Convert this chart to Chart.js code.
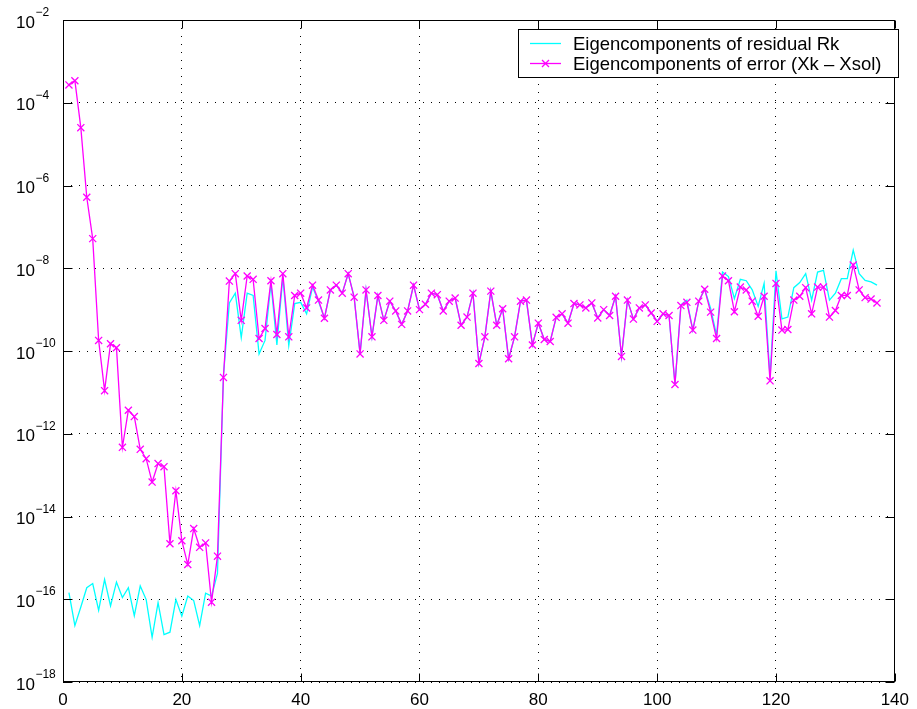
<!DOCTYPE html>
<html>
<head>
<meta charset="utf-8">
<title>Eigencomponents</title>
<script src="https://cdn.jsdelivr.net/npm/chart.js@4.4.1/dist/chart.umd.min.js"></script>
<style>
  body { margin: 0; background: #fff; }
  canvas { display: block; }
</style>
</head>
<body>
<canvas id="eigChart" width="917" height="709"></canvas>
<script>
// iteration index on the x axis
const iterations = Array.from({ length: 137 }, (_, i) => i + 1);

// eigencomponents of residual Rk (cyan)
const residual = [
    1.45e-16, 2.3e-17, 6.5e-17, 1.9e-16, 2.4e-16, 5.4e-17, 3.0e-16, 6.9e-17, 2.6e-16, 1.1e-16,
    1.9e-16, 4.0e-17, 2.1e-16, 9.8e-17, 1.2e-17, 8.3e-17, 1.4e-17, 1.6e-17, 9.8e-17, 3.9e-17,
    1.2e-16, 9.3e-17, 2.3e-17, 1.4e-16, 1.2e-16, 4.2e-16, 2.5e-11, 1.45e-9, 2.5e-9, 2.1e-10,
    2.5e-9, 2.2e-9, 8.5e-11, 1.8e-10, 4.3e-9, 1.4e-10, 6.2e-9, 1.35e-10, 1.4e-9, 1.5e-9,
    7.9e-10, 3.5e-9, 1.6e-9, 6.2e-10, 3.0e-9, 3.9e-9, 2.5e-9, 7.4e-9, 2.0e-9, 8.5e-11,
    3.0e-9, 2.2e-10, 2.2e-9, 5.5e-10, 1.6e-9, 9.3e-10, 4.4e-10, 9.3e-10, 3.9e-9, 1.0e-9,
    1.35e-9, 2.5e-9, 2.3e-9, 9.3e-10, 1.6e-9, 1.9e-9, 4.2e-10, 6.6e-10, 2.5e-9, 5.0e-11,
    2.2e-10, 2.8e-9, 4.2e-10, 1.05e-9, 6.5e-11, 2.2e-10, 1.6e-9, 1.7e-9, 1.4e-10, 4.7e-10,
    1.9e-10, 1.7e-10, 6.5e-10, 7.9e-10, 4.7e-10, 1.4e-9, 1.3e-9, 1.1e-9, 1.45e-9, 6.3e-10,
    1.0e-9, 7.2e-10, 2.1e-9, 7.4e-11, 1.7e-9, 5.9e-10, 1.1e-9, 1.3e-9, 8.3e-10, 5.2e-10,
    7.9e-10, 7.2e-10, 1.55e-11, 1.3e-9, 1.7e-9, 3.2e-10, 1.6e-9, 3.1e-9, 1.07e-9, 2.4e-10,
    8.1e-9, 6.3e-9, 1.85e-9, 5.4e-9, 5.0e-9, 3.0e-9, 1.2e-9, 4.3e-9, 2.3e-11, 8.7e-9,
    6.0e-10, 6.6e-10, 3.4e-9, 4.5e-9, 7.4e-9, 1.7e-9, 8.1e-9, 8.9e-9, 1.7e-9, 2.5e-9,
    5.6e-9, 5.6e-9, 2.75e-8, 7.4e-9, 5.1e-9, 4.7e-9, 3.9e-9
];

// eigencomponents of error (Xk - Xsol) (magenta, x markers)
const errorComp = [
    2.7e-4, 3.4e-4, 2.5e-5, 5.2e-7, 5.2e-8, 1.8e-10, 1.1e-11, 1.5e-10, 1.2e-10, 4.7e-13,
    3.7e-12, 2.6e-12, 4.2e-13, 2.5e-13, 6.8e-14, 1.9e-13, 1.6e-13, 2.2e-15, 4.2e-14, 2.6e-15,
    6.9e-16, 5.1e-15, 1.8e-15, 2.3e-15, 8.5e-17, 1.1e-15, 2.3e-11, 4.9e-9, 7.4e-9, 5.5e-10,
    6.5e-9, 5.4e-9, 2.0e-10, 3.5e-10, 5.0e-9, 2.5e-10, 7.4e-9, 2.2e-10, 2.2e-9, 2.5e-9,
    1.1e-9, 3.9e-9, 1.7e-9, 6.2e-10, 3.0e-9, 3.9e-9, 2.5e-9, 7.4e-9, 2.0e-9, 8.5e-11,
    3.0e-9, 2.2e-10, 2.2e-9, 5.5e-10, 1.6e-9, 9.3e-10, 4.4e-10, 9.3e-10, 3.9e-9, 1.0e-9,
    1.35e-9, 2.5e-9, 2.3e-9, 9.3e-10, 1.6e-9, 1.9e-9, 4.2e-10, 6.6e-10, 2.5e-9, 5.0e-11,
    2.2e-10, 2.8e-9, 4.2e-10, 1.05e-9, 6.5e-11, 2.2e-10, 1.6e-9, 1.7e-9, 1.4e-10, 4.7e-10,
    1.9e-10, 1.7e-10, 6.5e-10, 7.9e-10, 4.7e-10, 1.4e-9, 1.3e-9, 1.1e-9, 1.45e-9, 6.3e-10,
    1.0e-9, 7.2e-10, 2.1e-9, 7.4e-11, 1.7e-9, 5.9e-10, 1.1e-9, 1.3e-9, 8.3e-10, 5.2e-10,
    7.9e-10, 7.2e-10, 1.55e-11, 1.25e-9, 1.5e-9, 3.2e-10, 1.6e-9, 3.1e-9, 8.7e-10, 2.0e-10,
    6.5e-9, 5.0e-9, 8.9e-10, 3.5e-9, 3.0e-9, 1.6e-9, 6.9e-10, 2.1e-9, 1.9e-11, 4.3e-9,
    3.2e-10, 3.3e-10, 1.7e-9, 2.1e-9, 3.4e-9, 7.9e-10, 3.5e-9, 3.5e-9, 6.6e-10, 9.5e-10,
    2.2e-9, 2.2e-9, 1.2e-8, 3.0e-9, 1.95e-9, 1.8e-9, 1.45e-9
];

const seriesLabels = ["Eigencomponents of residual Rk", "Eigencomponents of error (Xk \u2013 Xsol)"];
const yTickValues = [1e-18, 1e-16, 1e-14, 1e-12, 1e-10, 1e-8, 1e-6, 1e-4, 1e-2];
const xTickValues = [0, 20, 40, 60, 80, 100, 120, 140];

const FONT = '"Liberation Sans", Arial, Helvetica, sans-serif';
Chart.defaults.font.family = FONT;
Chart.defaults.font.size = 16;
Chart.defaults.color = "#000";

// box, inward ticks, y labels with exponent, legend
const framePlugin = {
    id: "frame",
    afterDraw(chart) {
        const { ctx, chartArea: a, scales: { x, y } } = chart;
        const L = Math.round(a.left) + 0.5, R = Math.round(a.right) - 0.5;
        const T = Math.round(a.top) + 0.5, B = Math.round(a.bottom) - 0.5;
        ctx.save();
        ctx.strokeStyle = "#000";
        ctx.lineWidth = 1;
        ctx.setLineDash([]);
        ctx.strokeRect(L, T, R - L, B - T);
        ctx.beginPath();
        x.ticks.forEach(t => {
            const px = Math.round(x.getPixelForValue(t.value)) + 0.5;
            ctx.moveTo(px, B); ctx.lineTo(px, B - 8);
            ctx.moveTo(px, T); ctx.lineTo(px, T + 8);
        });
        y.ticks.forEach(t => {
            const py = Math.round(y.getPixelForValue(t.value)) + 0.5;
            ctx.moveTo(L, py); ctx.lineTo(L + 9, py);
            ctx.moveTo(R, py); ctx.lineTo(R - 9, py);
        });
        ctx.stroke();

        // y tick labels: 10 with superscript exponent
        ctx.fillStyle = "#000";
        ctx.textAlign = "left";
        ctx.textBaseline = "alphabetic";
        y.ticks.forEach(t => {
            const py = y.getPixelForValue(t.value);
            const exp = Math.round(Math.log10(t.value));
            ctx.font = "17px " + FONT;
            ctx.fillText("10", 16, py + 7.5);
            const w = ctx.measureText("10").width;
            ctx.font = "12px " + FONT;
            ctx.fillText("\u2212" + Math.abs(exp), 16 + w + 0.5, py - 4);
        });

        // legend box
        const lx = 518.5, ly = 29.5, lw = 380, lh = 48;
        ctx.fillStyle = "#fff";
        ctx.fillRect(lx, ly, lw, lh);
        ctx.strokeRect(lx, ly, lw, lh);
        const ds = chart.data.datasets;
        const rows = [43, 63];
        ctx.font = "18.5px " + FONT;
        ctx.textBaseline = "middle";
        ds.forEach((d, i) => {
            const yy = rows[i] + 0.5;
            ctx.strokeStyle = d.borderColor;
            ctx.lineWidth = 1.3;
            ctx.beginPath();
            ctx.moveTo(530, yy); ctx.lineTo(561, yy);
            ctx.stroke();
            if (d.pointRadius > 0) {
                const cx = 545.5, r = 3.5;
                ctx.beginPath();
                ctx.moveTo(cx - r, yy - r); ctx.lineTo(cx + r, yy + r);
                ctx.moveTo(cx - r, yy + r); ctx.lineTo(cx + r, yy - r);
                ctx.stroke();
            }
            ctx.fillStyle = "#000";
            ctx.fillText(d.label, 573, yy + 1);
        });
        ctx.restore();
    }
};

const canvas = document.getElementById("eigChart");

new Chart(canvas, {
    type: "line",
    data: {
        datasets: [
            {
                label: seriesLabels[0],
                data: iterations.map((k, i) => ({ x: k, y: residual[i] })),
                borderColor: "#00ffff",
                borderWidth: 1.3,
                pointRadius: 0,
                tension: 0,
                order: 1
            },
            {
                label: seriesLabels[1],
                data: iterations.map((k, i) => ({ x: k, y: errorComp[i] })),
                borderColor: "#ff00ff",
                borderWidth: 1.3,
                pointStyle: "crossRot",
                pointRadius: 5,
                pointBorderWidth: 1.3,
                pointBorderColor: "#ff00ff",
                tension: 0,
                order: 0
            }
        ]
    },
    options: {
        responsive: false,
        animation: false,
        events: [],
        layout: { padding: { top: 20, right: 15, left: 0, bottom: 0 } },
        plugins: {
            legend: { display: false },
            tooltip: { enabled: false }
        },
        scales: {
            x: {
                type: "linear",
                min: 0,
                max: 140,
                afterBuildTicks: scale => {
                    scale.ticks = xTickValues.map(v => ({ value: v }));
                },
                afterFit: scale => { scale.height = 27; },
                ticks: { padding: 8, font: { size: 17 }, color: "#000" },
                grid: { color: "#000", lineWidth: 1, drawTicks: false },
                border: { display: false, dash: [1, 7] }
            },
            y: {
                type: "logarithmic",
                min: 1e-18,
                max: 1e-2,
                afterBuildTicks: scale => {
                    scale.ticks = yTickValues.map(v => ({ value: v }));
                },
                afterFit: scale => { scale.width = 63; },
                ticks: { display: false },
                grid: { color: "#000", lineWidth: 1, drawTicks: false },
                border: { display: false, dash: [1, 7] }
            }
        }
    },
    plugins: [framePlugin]
});
</script>
</body>
</html>
